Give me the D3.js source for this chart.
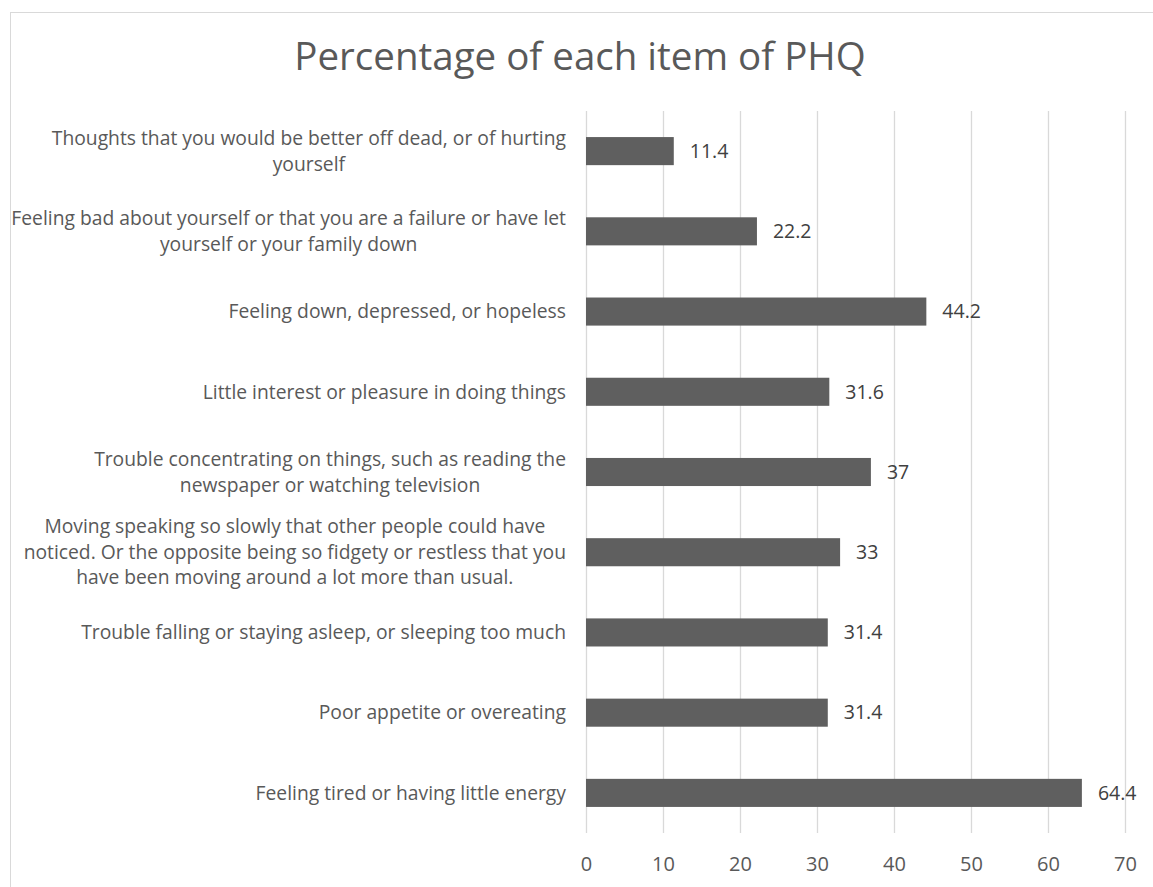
<!DOCTYPE html>
<html>
<head>
<meta charset="utf-8">
<script src="https://cdn.jsdelivr.net/npm/d3@7"></script>
<style>
  body { margin: 0; background: #fff; }
  svg { display: block; font-family: "Open Sans", sans-serif; }
</style>
</head>
<body>
<script>
// PHQ items, top to bottom as drawn
const items = [
  ["Thoughts that you would be better off dead, or of hurting", "yourself"],
  ["Feeling bad about yourself or that you are a failure or have let", "yourself or your family down"],
  ["Feeling down, depressed, or hopeless"],
  ["Little interest or pleasure in doing things"],
  ["Trouble concentrating on things, such as reading the", "newspaper or watching television"],
  ["Moving speaking so slowly that other people could have", "noticed. Or the opposite being so fidgety or restless that you", "have been moving around a lot more than usual."],
  ["Trouble falling or staying asleep, or sleeping too much"],
  ["Poor appetite or overeating"],
  ["Feeling tired or having little energy"]
]
const percents = [11.4, 22.2, 44.2, 31.6, 37, 33, 31.4, 31.4, 64.4]
const xTicks = [0, 10, 20, 30, 40, 50, 60, 70]
const title = "Percentage of each item of PHQ"

const width = 1153
const height = 887
const plot = { left: 586, right: 1125, top: 111, bottom: 833 }
const textColor = "#595959"

const svg = d3.select("body")
  .append("svg")
    .attr("width", width)
    .attr("height", height)

// chart frame (runs off the right/bottom edge like the source)
svg.append("rect")
  .attr("x", 10.5)
  .attr("y", 12.5)
  .attr("width", width)
  .attr("height", height)
  .attr("fill", "none")
  .attr("stroke", "#d9d9d9")
  .attr("stroke-width", 1)

svg.append("text")
  .attr("x", 580)
  .attr("y", 70)
  .attr("text-anchor", "middle")
  .attr("fill", textColor)
  .attr("font-size", 38.5)
  .text(title)

const x = d3.scaleLinear().domain([0, 70]).range([plot.left, plot.right])
const y = d3.scaleBand()
  .domain(d3.range(items.length))
  .range([plot.top, plot.bottom])
  .paddingInner(0.65)
  .paddingOuter(0.325)

// gridlines + tick labels
const xAxis = svg.append("g")
  .attr("transform", `translate(0,${plot.bottom})`)
  .call(d3.axisBottom(x).tickValues(xTicks).tickSize(-(plot.bottom - plot.top)).tickPadding(24))
xAxis.select(".domain").remove()
xAxis.selectAll(".tick line").attr("stroke", "#d9d9d9").attr("stroke-width", 1.3)
xAxis.selectAll(".tick text")
  .attr("fill", textColor)
  .attr("font-size", 20)
  .attr("font-family", "'Open Sans', sans-serif")

svg.selectAll("rect.bar")
  .data(percents)
  .enter()
    .append("rect")
    .attr("class", "bar")
    .attr("x", x(0))
    .attr("y", (d, i) => y(i))
    .attr("width", (d) => x(d) - x(0))
    .attr("height", y.bandwidth())
    .attr("fill", "#5f5f5f")

svg.selectAll("text.value")
  .data(percents)
  .enter()
    .append("text")
    .attr("class", "value")
    .attr("x", (d) => x(d) + 16)
    .attr("y", (d, i) => y(i) + y.bandwidth() / 2)
    .attr("dy", "0.35em")
    .attr("fill", "#404040")
    .attr("font-size", 19.5)
    .text((d) => d)

// category labels: block right-aligned, lines centered inside block
const labelRight = 566
const lineH = 25.5
items.forEach((lines, i) => {
  const g = svg.append("g")
  const cy = y(i) + y.bandwidth() / 2
  const texts = lines.map((ln, k) => g.append("text")
    .attr("y", cy + (k - (lines.length - 1) / 2) * lineH)
    .attr("dy", "0.35em")
    .attr("fill", textColor)
    .attr("font-size", 19.3)
    .attr("text-anchor", "middle")
    .text(ln))
  const maxW = d3.max(texts, (t) => t.node().getComputedTextLength())
  texts.forEach((t) => t.attr("x", labelRight - maxW / 2))
})
</script>
</body>
</html>
